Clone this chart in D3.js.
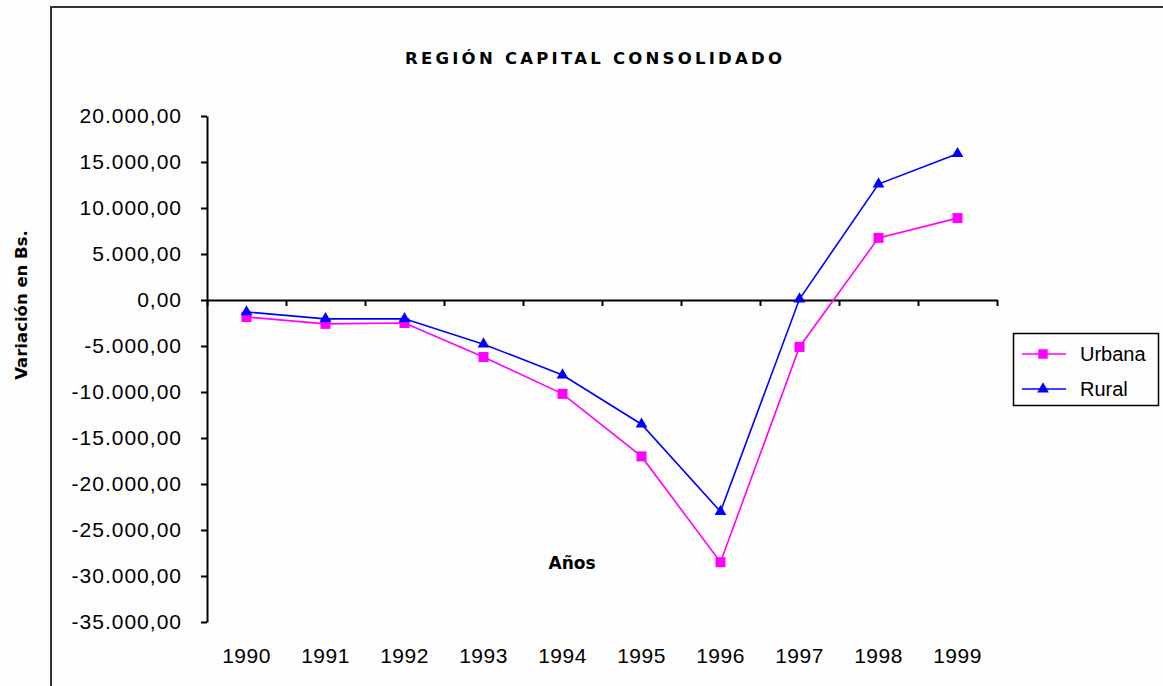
<!DOCTYPE html>
<html>
<head>
<meta charset="utf-8">
<script src="https://cdn.jsdelivr.net/npm/d3@7"></script>
<style>
  body { margin: 0; background: #fdfdfd; }
  svg { display: block; }
</style>
</head>
<body>
<script>
// chart data
var years = ["1990", "1991", "1992", "1993", "1994", "1995", "1996", "1997", "1998", "1999"];
var urbana = [-1850, -2600, -2500, -6200, -10200, -17000, -28500, -5100, 6750, 8900];
var rural = [-1300, -2050, -2050, -4800, -8150, -13500, -23000, 100, 12600, 15900];
var yTicks = [20000, 15000, 10000, 5000, 0, -5000, -10000, -15000, -20000, -25000, -30000, -35000];

var W = 1163, H = 686;

var svg = d3.select("body").append("svg")
    .attr("width", W)
    .attr("height", H);

// outer frame (left and top edges only visible)
svg.append("path")
    .attr("d", "M51,686 V7 H1163")
    .attr("fill", "none")
    .attr("stroke", "#333")
    .attr("stroke-width", 2);

// scales
var x = d3.scaleBand()
    .domain(years)
    .range([207, 997]);

var xEdge = d3.scaleLinear()
    .domain([0, years.length])
    .range([207, 997]);

var y = d3.scaleLinear()
    .domain([-35000, 20000])
    .range([622, 116]);

var locale = d3.formatLocale({decimal: ",", thousands: ".", grouping: [3], currency: ["", ""], minus: "-"});
var fmt = locale.format(",.2f");

// y axis
var yAxis = svg.append("g")
    .attr("transform", "translate(207,0)")
    .call(d3.axisLeft(y).tickValues(yTicks).tickFormat(fmt).tickSize(6).tickPadding(19).tickSizeOuter(0));
yAxis.select(".domain").attr("stroke", "#000").attr("stroke-width", 2);
yAxis.selectAll(".tick line").attr("stroke", "#000").attr("stroke-width", 2);
yAxis.selectAll(".tick text")
    .attr("fill", "#000")
    .style("font-family", "'Liberation Sans', Arial, sans-serif")
    .style("font-size", "21px")
    .style("letter-spacing", "1px");

// x axis on the zero line
var xAxis = svg.append("g")
    .attr("transform", "translate(0," + y(0) + ")")
    .call(d3.axisBottom(xEdge).ticks(years.length).tickFormat("").tickSize(6).tickSizeOuter(0));
xAxis.select(".domain").attr("stroke", "#000").attr("stroke-width", 2);
xAxis.selectAll(".tick line").attr("stroke", "#000").attr("stroke-width", 2);

// year labels at the bottom
svg.append("g").selectAll("text")
    .data(years)
    .join("text")
    .attr("x", function(d) { return x(d) + x.bandwidth() / 2; })
    .attr("y", 663)
    .attr("text-anchor", "middle")
    .style("font-family", "'Liberation Sans', Arial, sans-serif")
    .style("font-size", "21px")
    .style("letter-spacing", "0.5px")
    .text(function(d) { return d; });

var line = d3.line()
    .x(function(d, i) { return x(years[i]) + x.bandwidth() / 2; })
    .y(function(d) { return y(d); });

// Urbana
svg.append("path")
    .datum(urbana)
    .attr("fill", "none")
    .attr("stroke", "#ff00ff")
    .attr("stroke-width", 1.6)
    .attr("d", line);

svg.append("g").selectAll("rect")
    .data(urbana)
    .join("rect")
    .attr("x", function(d, i) { return x(years[i]) + x.bandwidth() / 2 - 5; })
    .attr("y", function(d) { return y(d) - 5; })
    .attr("width", 10)
    .attr("height", 10)
    .attr("fill", "#ff00ff");

// Rural
svg.append("path")
    .datum(rural)
    .attr("fill", "none")
    .attr("stroke", "#0000ff")
    .attr("stroke-width", 1.6)
    .attr("d", line);

var tri = d3.symbol().type(d3.symbolTriangle).size(60);
svg.append("g").selectAll("path")
    .data(rural)
    .join("path")
    .attr("transform", function(d, i) { return "translate(" + (x(years[i]) + x.bandwidth() / 2) + "," + y(d) + ")"; })
    .attr("d", tri)
    .attr("fill", "#0000ff");

// title
svg.append("text")
    .attr("x", 405)
    .attr("y", 64)
    .attr("textLength", 377)
    .attr("lengthAdjust", "spacing")
    .style("font-family", "'DejaVu Sans', Verdana, sans-serif")
    .style("font-weight", "bold")
    .style("font-size", "16.5px")
    .text("REGIÓN CAPITAL CONSOLIDADO");

// axis titles
svg.append("text")
    .attr("transform", "translate(27,305) rotate(-90)")
    .attr("text-anchor", "middle")
    .style("font-family", "'DejaVu Sans', Verdana, sans-serif")
    .style("font-weight", "bold")
    .style("font-size", "16.5px")
    .text("Variación en Bs.");

svg.append("text")
    .attr("x", 572)
    .attr("y", 569)
    .attr("text-anchor", "middle")
    .style("font-family", "'DejaVu Sans', Verdana, sans-serif")
    .style("font-weight", "bold")
    .style("font-size", "17px")
    .text("Años");

// legend
var legend = svg.append("g");
legend.append("rect")
    .attr("x", 1013.5)
    .attr("y", 333.5)
    .attr("width", 145)
    .attr("height", 72)
    .attr("fill", "none")
    .attr("stroke", "#000")
    .attr("stroke-width", 1.5);

var legendItems = [
    {name: "Urbana", color: "#ff00ff", marker: "square"},
    {name: "Rural", color: "#0000ff", marker: "triangle"}
];
var ly = d3.scalePoint().domain(legendItems.map(function(d) { return d.name; })).range([354, 389]);

var li = legend.selectAll("g.item")
    .data(legendItems)
    .join("g")
    .attr("class", "item")
    .attr("transform", function(d) { return "translate(0," + ly(d.name) + ")"; });

li.append("line")
    .attr("x1", 1022).attr("x2", 1066)
    .attr("stroke", function(d) { return d.color; })
    .attr("stroke-width", 1.6);

li.append("path")
    .attr("transform", "translate(1043,0)")
    .attr("d", function(d) { return d.marker === "square" ? d3.symbol().type(d3.symbolSquare).size(90)() : tri(); })
    .attr("fill", function(d) { return d.color; });

li.append("text")
    .attr("x", 1080)
    .attr("y", 7)
    .style("font-family", "'Liberation Sans', Arial, sans-serif")
    .style("font-size", "20px")
    .text(function(d) { return d.name; });
</script>
</body>
</html>
